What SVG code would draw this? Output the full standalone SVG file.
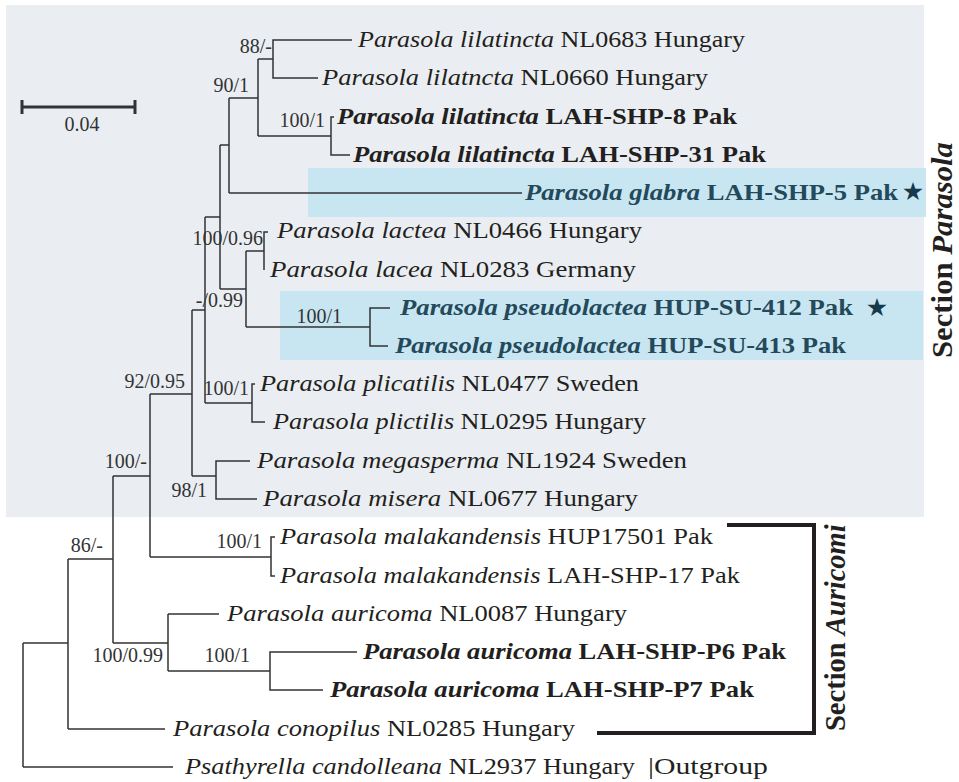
<svg xmlns="http://www.w3.org/2000/svg" width="959" height="782" viewBox="0 0 959 782">
<style>
.tx{font-family:"Liberation Serif","Times New Roman",serif;font-size:23px;fill:#231f20}
.i{font-style:italic}
.b{font-weight:bold}
.hl{fill:#24495a}
.sup{font-family:"Liberation Serif","Times New Roman",serif;font-size:20px;fill:#333;text-anchor:end}
.br{fill:none;stroke:#333;stroke-width:1.5}
.star{font-family:"DejaVu Sans",sans-serif;font-size:25px;fill:#17394a;text-anchor:middle}
.sec{font-family:"Liberation Serif","Times New Roman",serif;font-size:28.5px;font-weight:bold;fill:#231f20}
</style>
<rect id="bg-parasola" x="6" y="5" width="918" height="512" fill="#eaeef2"/>
<rect id="hl-glabra" x="308" y="168" width="618" height="49" fill="#c8e6f1"/>
<rect id="hl-pseudolactea" x="280" y="291" width="643" height="69" fill="#c8e6f1"/>

<g id="scalebar">
<path d="M22,107H135M22,100V114M135,100V114" fill="none" stroke="#333" stroke-width="3"/>
<text x="82" y="131" style="font-family:'Liberation Serif',serif;font-size:20px;fill:#333" text-anchor="middle">0.04</text>
</g>

<g id="connectors" class="br">
<path d="M23,643V767M23,643H68M23,767H173"/>
<path d="M68,559V729M68,559H113M68,729H165"/>
<path d="M113,476V643M113,476H150M113,643H168"/>
<path d="M150,394V557M150,394H192M150,557H271"/>
<path d="M275,537H271V576H275"/>
<path d="M192,310V476M192,310H205M192,476H216"/>
<path d="M250,461H216V499H257"/>
<path d="M205,217V403M205,217H220M205,403H252"/>
<path d="M255,384H252V422H265"/>
<path d="M220,145V289M220,145H229M220,289H246"/>
<path d="M229,98V193M229,98H258M229,193H522"/>
<path d="M258,59V136M258,59H273M258,136H331"/>
<path d="M352,40H273V78H318"/>
<path d="M334,117H331V155H350"/>
<path d="M246,251V327M246,251H264M246,327H370"/>
<path d="M268,232H264V270"/>
<path d="M390,308H370V346H388"/>
<path d="M168,614V671M168,614H219M168,671H270"/>
<path d="M357,652H270V690H323"/>
</g>

<g id="support">
<text class="sup" x="272" y="53">88/-</text>
<text class="sup" x="249" y="92">90/1</text>
<text class="sup" x="325" y="127">100/1</text>
<text class="sup" x="263" y="245">100/0.96</text>
<text class="sup" x="243" y="307">-/0.99</text>
<text class="sup" x="342" y="323">100/1</text>
<text class="sup" x="185" y="388">92/0.95</text>
<text class="sup" x="249" y="395">100/1</text>
<text class="sup" x="147" y="468">100/-</text>
<text class="sup" x="207" y="497">98/1</text>
<text class="sup" x="103" y="552">86/-</text>
<text class="sup" x="262" y="548">100/1</text>
<text class="sup" x="163" y="662">100/0.99</text>
<text class="sup" x="250" y="662">100/1</text>
</g>

<g id="t01"><text class="tx" x="358" y="47" textLength="387" lengthAdjust="spacingAndGlyphs"><tspan class="i">Parasola lilatincta</tspan> NL0683 Hungary</text></g>
<g id="t02"><text class="tx" x="322" y="85" textLength="386" lengthAdjust="spacingAndGlyphs"><tspan class="i">Parasola lilatncta</tspan> NL0660 Hungary</text></g>
<g id="t03"><text class="tx b" x="337" y="124" textLength="400" lengthAdjust="spacingAndGlyphs"><tspan class="i">Parasola lilatincta</tspan> LAH-SHP-8 Pak</text></g>
<g id="t04"><text class="tx b" x="353" y="162" textLength="413" lengthAdjust="spacingAndGlyphs"><tspan class="i">Parasola lilatincta</tspan> LAH-SHP-31 Pak</text></g>
<g id="t05"><text class="tx b hl" x="525" y="200" textLength="373" lengthAdjust="spacingAndGlyphs"><tspan class="i">Parasola glabra</tspan> LAH-SHP-5 Pak</text><text class="star" x="913" y="200">★</text></g>
<g id="t06"><text class="tx" x="277" y="238" textLength="365" lengthAdjust="spacingAndGlyphs"><tspan class="i">Parasola lactea</tspan> NL0466 Hungary</text></g>
<g id="t07"><text class="tx" x="270" y="277" textLength="366" lengthAdjust="spacingAndGlyphs"><tspan class="i">Parasola lacea</tspan> NL0283 Germany</text></g>
<g id="t08"><text class="tx b hl" x="400" y="315" textLength="453" lengthAdjust="spacingAndGlyphs"><tspan class="i">Parasola pseudolactea</tspan> HUP-SU-412 Pak</text><text class="star" x="877" y="316">★</text></g>
<g id="t09"><text class="tx b hl" x="395" y="353" textLength="451" lengthAdjust="spacingAndGlyphs"><tspan class="i">Parasola pseudolactea</tspan> HUP-SU-413 Pak</text></g>
<g id="t10"><text class="tx" x="260" y="391" textLength="379" lengthAdjust="spacingAndGlyphs"><tspan class="i">Parasola plicatilis</tspan> NL0477 Sweden</text></g>
<g id="t11"><text class="tx" x="273" y="429" textLength="373" lengthAdjust="spacingAndGlyphs"><tspan class="i">Parasola plictilis</tspan> NL0295 Hungary</text></g>
<g id="t12"><text class="tx" x="257" y="468" textLength="430" lengthAdjust="spacingAndGlyphs"><tspan class="i">Parasola megasperma</tspan> NL1924 Sweden</text></g>
<g id="t13"><text class="tx" x="263" y="506" textLength="375" lengthAdjust="spacingAndGlyphs"><tspan class="i">Parasola misera</tspan> NL0677 Hungary</text></g>
<g id="t14"><text class="tx" x="280" y="544" textLength="433" lengthAdjust="spacingAndGlyphs"><tspan class="i">Parasola malakandensis</tspan> HUP17501 Pak</text></g>
<g id="t15"><text class="tx" x="280" y="583" textLength="460" lengthAdjust="spacingAndGlyphs"><tspan class="i">Parasola malakandensis</tspan> LAH-SHP-17 Pak</text></g>
<g id="t16"><text class="tx" x="227" y="621" textLength="400" lengthAdjust="spacingAndGlyphs"><tspan class="i">Parasola auricoma</tspan> NL0087 Hungary</text></g>
<g id="t17"><text class="tx b" x="363" y="659" textLength="423" lengthAdjust="spacingAndGlyphs"><tspan class="i">Parasola auricoma</tspan> LAH-SHP-P6 Pak</text></g>
<g id="t18"><text class="tx b" x="330" y="697" textLength="424" lengthAdjust="spacingAndGlyphs"><tspan class="i">Parasola auricoma</tspan> LAH-SHP-P7 Pak</text></g>
<g id="t19"><text class="tx" x="173" y="736" textLength="402" lengthAdjust="spacingAndGlyphs"><tspan class="i">Parasola conopilus</tspan> NL0285 Hungary</text></g>
<g id="t20"><text class="tx" x="185" y="774" textLength="450" lengthAdjust="spacingAndGlyphs"><tspan class="i">Psathyrella candolleana</tspan> NL2937 Hungary</text><text class="tx" x="648" y="774" textLength="120" lengthAdjust="spacingAndGlyphs">|Outgroup</text></g>

<g id="section-auricomi">
<path d="M727,525H814V733H597" fill="none" stroke="#231f20" stroke-width="4"/>
<text class="sec" transform="translate(845,731) rotate(-90)">Section <tspan class="i">Auricomi</tspan></text>
</g>
<g id="section-parasola">
<text class="sec" transform="translate(952,358) rotate(-90)" textLength="216" lengthAdjust="spacingAndGlyphs">Section <tspan class="i">Parasola</tspan></text>
</g>
</svg>
